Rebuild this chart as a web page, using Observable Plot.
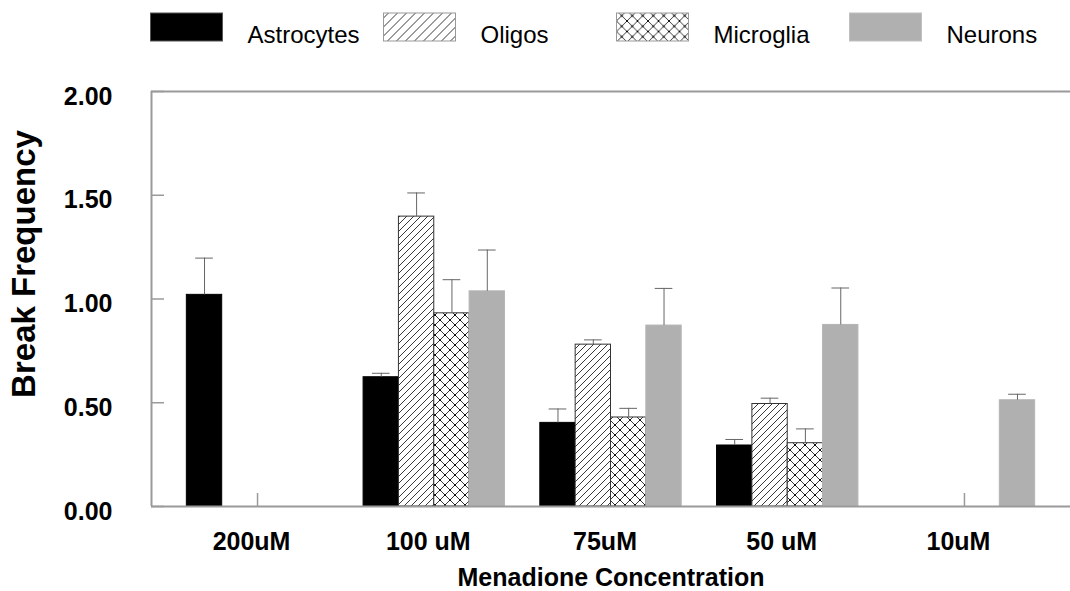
<!DOCTYPE html>
<html><head><meta charset="utf-8">
<script src="https://cdn.jsdelivr.net/npm/d3@7"></script>
<script src="https://cdn.jsdelivr.net/npm/@observablehq/plot@0.6"></script>
<style>
html,body{margin:0;padding:0;background:#fff;}
#wrap{position:relative;width:1070px;height:591px;font-family:"Liberation Sans",Arial,sans-serif;}
#legend{position:absolute;left:0;top:0;}
</style></head><body><div id="wrap"></div>
<script>
// ---- data ----
const concentrations = ["200uM", "100 uM", "75uM", "50 uM", "10uM"];
const cellTypes = ["Astrocytes", "Oligos", "Microglia", "Neurons"];
const astrocytes   = [1.02, 0.623, 0.403, 0.294, 0];
const astrocytesSE = [0.177, 0.019, 0.067, 0.029, 0];
const oligos       = [0, 1.397, 0.780, 0.494, 0];
const oligosSE     = [0, 0.114, 0.023, 0.028, 0];
const microglia    = [0, 0.931, 0.429, 0.305, 0];
const microgliaSE  = [0, 0.162, 0.044, 0.069, 0];
const neurons      = [0, 1.037, 0.872, 0.875, 0.512];
const neuronsSE    = [0, 0.199, 0.179, 0.178, 0.029];
const yTicks = [0, 0.5, 1, 1.5, 2];
const xTitle = "Menadione Concentration";
const yTitle = "Break Frequency";

const seriesValues = [astrocytes, oligos, microglia, neurons];
const seriesSE = [astrocytesSE, oligosSE, microgliaSE, neuronsSE];

// tidy table
const slot = 0.2; // each bar occupies one fifth of a category step
const rows = [];
cellTypes.forEach((cell, k) => {
  concentrations.forEach((conc, i) => {
    rows.push({conc, i, cell, k, value: seriesValues[k][i], se: seriesSE[k][i]});
  });
});
const bx1 = d => d.i + (d.k - 2) * slot;
const bx2 = d => d.i + (d.k - 1) * slot;
const bxc = d => d.i + (d.k - 1.5) * slot;

const cellStyle = {
  Astrocytes: {fill: "#000", stroke: "#000"},
  Oligos: {fill: "url(#hatch)", stroke: "#333"},
  Microglia: {fill: "url(#cross)", stroke: "#333"},
  Neurons: {fill: "#b0b0b0", stroke: "#b4b4b4"}
};

const axisGray = "#9a9a9a";
const errGray = "#666";
const xDomain = [-0.6, concentrations.length - 0.4];

const plot = Plot.plot({
  width: 1070, height: 591,
  marginLeft: 151, marginRight: 0, marginTop: 91, marginBottom: 85,
  style: {fontFamily: "'Liberation Sans', Arial, sans-serif", color: "#000", background: "transparent", overflow: "visible"},
  x: {type: "linear", domain: xDomain, axis: null},
  y: {domain: [0, 2], axis: null},
  marks: [
    // inward x ticks at category centres
    Plot.axisX({ticks: d3.range(concentrations.length), tickSize: 13, dy: -13, tickFormat: () => "", label: null, stroke: axisGray, strokeWidth: 1.5}),
    // inward y ticks
    Plot.axisY({ticks: yTicks, tickSize: 13, dx: 13, tickFormat: () => "", label: null, stroke: axisGray, strokeWidth: 1.5}),
    // y tick labels
    Plot.axisY({ticks: yTicks, tickSize: 0, tickPadding: 39, tickFormat: d3.format(".2f"), fontSize: 25, fontWeight: "bold", dy: 5, label: null}),
    // y title (sits a little above the frame centre in the reference)
    Plot.text([yTitle], {text: d => d, frameAnchor: "left", textAnchor: "middle", rotate: -90, lineAnchor: "top", dx: -140, dy: -35, fontSize: 33, fontWeight: "bold"}),
    // x tick labels
    Plot.axisX({ticks: d3.range(concentrations.length), tickFormat: i => concentrations[i], tickSize: 0, tickPadding: 26, fontSize: 25, fontWeight: "bold", dx: -6, label: null}),
    // x title
    Plot.axisX({ticks: [], label: xTitle, labelAnchor: "center", labelArrow: "none", labelOffset: 79, fontSize: 25, fontWeight: "bold"}),
    // bars
    ...cellTypes.map(cell => Plot.rect(rows.filter(d => d.cell === cell && d.value > 0), {
      x1: bx1, x2: bx2, y1: 0, y2: "value",
      fill: cellStyle[cell].fill, stroke: cellStyle[cell].stroke, strokeWidth: 1
    })),
    // error bars (upper only)
    Plot.ruleX(rows.filter(d => d.se > 0), {x: bxc, y1: "value", y2: d => d.value + d.se, stroke: errGray, strokeWidth: 1}),
    Plot.ruleY(rows.filter(d => d.se > 0), {y: d => d.value + d.se, x1: d => bxc(d) - slot / 4, x2: d => bxc(d) + slot / 4, stroke: errGray, strokeWidth: 1}),
    // frame lines: left, bottom, top
    Plot.ruleX([xDomain[0]], {stroke: axisGray, strokeWidth: 2}),
    Plot.ruleY([0, 2], {stroke: axisGray, strokeWidth: 2})
  ]
});

function addPatterns(svgSel, idH, idC, hs, cs) {
  const defs = svgSel.insert("defs", ":first-child");
  const h = defs.append("pattern").attr("id", idH).attr("patternUnits", "userSpaceOnUse").attr("width", hs).attr("height", hs);
  h.append("rect").attr("width", hs).attr("height", hs).attr("fill", "#fff");
  h.append("path").attr("d", `M-1,1 l2,-2 M0,${hs} l${hs},${-hs} M${hs - 1},${hs + 1} l2,-2`).attr("stroke", "#222").attr("stroke-width", 0.9);
  const c = defs.append("pattern").attr("id", idC).attr("patternUnits", "userSpaceOnUse").attr("width", cs).attr("height", cs);
  c.append("rect").attr("width", cs).attr("height", cs).attr("fill", "#fff");
  c.append("path").attr("d", `M0,0 L${cs},${cs} M${cs},0 L0,${cs}`).attr("stroke", "#222").attr("stroke-width", 0.9);
  [[0, 0], [cs, 0], [0, cs], [cs, cs], [cs / 2, cs / 2]].forEach(([x, y]) =>
    c.append("circle").attr("cx", x).attr("cy", y).attr("r", 1).attr("fill", "#000"));
}
addPatterns(d3.select(plot), "hatch", "cross", 7, 10);
document.getElementById("wrap").appendChild(plot);

// ---- legend (above the plot area) ----
const legend = d3.select("#wrap").append("svg").attr("id", "legend").attr("width", 1070).attr("height", 60);
addPatterns(legend, "hatchL", "crossL", 9, 10.5);
const legendFill = {Astrocytes: "#000", Oligos: "url(#hatchL)", Microglia: "url(#crossL)", Neurons: "#b0b0b0"};
const legendStroke = {Astrocytes: "#555", Oligos: "#999", Microglia: "#999", Neurons: "#c0c0c0"};
const lg = legend.selectAll("g").data(cellTypes).join("g")
  .attr("transform", (d, i) => `translate(${150.5 + i * 233},0)`);
lg.append("rect").attr("x", 0).attr("y", 13).attr("width", 72).attr("height", 28)
  .attr("fill", d => legendFill[d]).attr("stroke", d => legendStroke[d]).attr("stroke-width", 1);
lg.append("text").attr("x", 97).attr("y", 43).text(d => d)
  .attr("font-family", "'Liberation Sans', Arial, sans-serif").attr("font-size", 24).attr("fill", "#000");
</script></body></html>
